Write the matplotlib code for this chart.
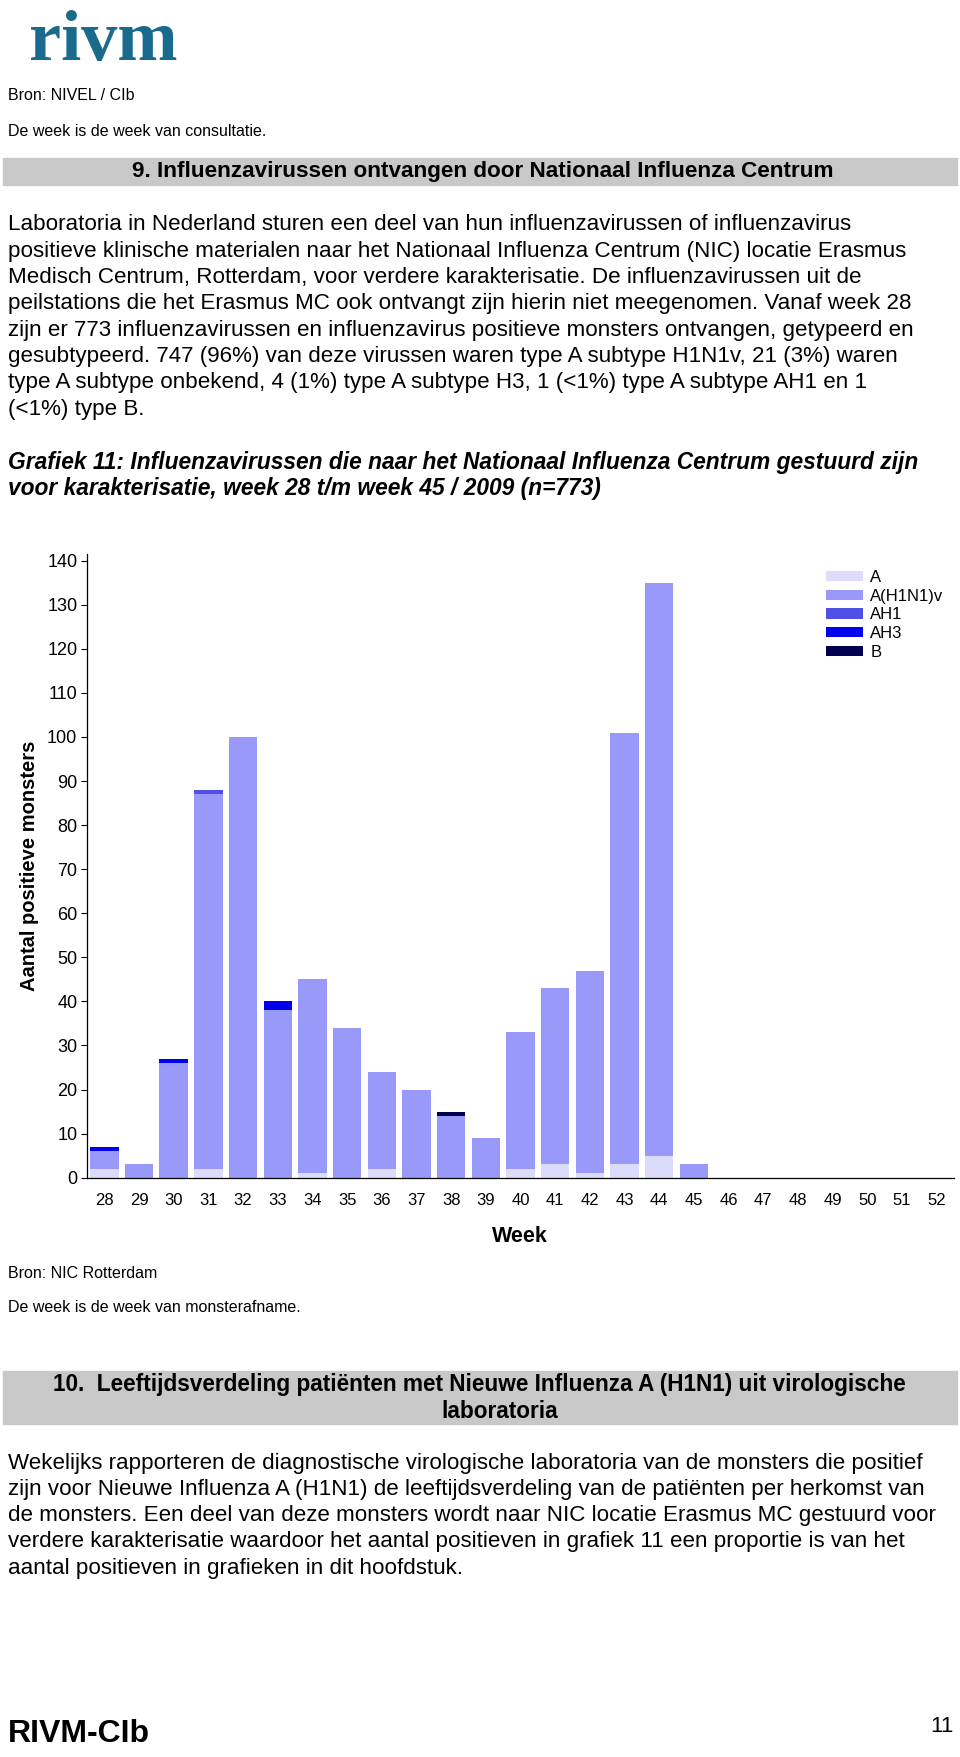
import numpy as np
import matplotlib.pyplot as plt
from matplotlib.patches import Rectangle

plt.rcParams['font.family'] = ['Liberation Sans', 'DejaVu Sans']

# ---------------------------------------------------------------
# data: samples received by NIC per week (week 28 - 52, 2009)
# ---------------------------------------------------------------
weeks = [str(w) for w in range(28, 53)]
a_unk = [2, 0, 0, 2, 0, 0, 1, 0, 2, 0, 0, 0, 2, 3, 1, 3, 5, 0, 0, 0, 0, 0, 0, 0, 0]
a_h1n1v = [4, 3, 26, 85, 100, 38, 44, 34, 22, 20, 14, 9, 31, 40, 46, 98, 130, 3, 0, 0, 0, 0, 0, 0, 0]
a_h1 = [0, 0, 0, 1, 0, 0, 0, 0, 0, 0, 0, 0, 0, 0, 0, 0, 0, 0, 0, 0, 0, 0, 0, 0, 0]
a_h3 = [1, 0, 1, 0, 0, 2, 0, 0, 0, 0, 0, 0, 0, 0, 0, 0, 0, 0, 0, 0, 0, 0, 0, 0, 0]
b = [0, 0, 0, 0, 0, 0, 0, 0, 0, 0, 1, 0, 0, 0, 0, 0, 0, 0, 0, 0, 0, 0, 0, 0, 0]

series = [('A', a_unk, '#dcdcfa'),
          ('A(H1N1)v', a_h1n1v, '#9999fa'),
          ('AH1', a_h1, '#5050e6'),
          ('AH3', a_h3, '#0000ee'),
          ('B', b, '#000050')]

yticks = list(range(0, 141, 10))

# ---------------------------------------------------------------
# page layout (pixels, origin top left)
# ---------------------------------------------------------------
W, H = 960, 1757
fig = plt.figure(figsize=(W / 100, H / 100), dpi=100)

BODY = 16.1


def txt(x, y, s, **kw):
    kw.setdefault('va', 'center')
    kw.setdefault('fontsize', BODY)
    fig.text(x / W, 1 - y / H, s, **kw)


def band(y0, y1):
    fig.patches.append(Rectangle((3 / W, 1 - y1 / H), 954 / W, (y1 - y0) / H,
                                 transform=fig.transFigure, color='#c8c8c8', zorder=0))


# logo
txt(29, 60, 'rivm', va='baseline', fontsize=52, fontweight='bold',
    family='Liberation Serif', color='#1a6a8e')

txt(8, 95, 'Bron: NIVEL / CIb', fontsize=11.5)
txt(8, 131, 'De week is de week van consultatie.', fontsize=11.5)

band(158, 185)
txt(483, 172, '9. Influenzavirussen ontvangen door Nationaal Influenza Centrum',
    ha='center', fontsize=16.2, fontweight='bold')

body1 = ['Laboratoria in Nederland sturen een deel van hun influenzavirussen of influenzavirus',
         'positieve klinische materialen naar het Nationaal Influenza Centrum (NIC) locatie Erasmus',
         'Medisch Centrum, Rotterdam, voor verdere karakterisatie. De influenzavirussen uit de',
         'peilstations die het Erasmus MC ook ontvangt zijn hierin niet meegenomen. Vanaf week 28',
         'zijn er 773 influenzavirussen en influenzavirus positieve monsters ontvangen, getypeerd en',
         'gesubtypeerd. 747 (96%) van deze virussen waren type A subtype H1N1v, 21 (3%) waren',
         'type A subtype onbekend, 4 (1%) type A subtype H3, 1 (<1%) type A subtype AH1 en 1',
         '(<1%) type B.']
for i, line in enumerate(body1):
    txt(8, 225 + i * 26.3, line)

txt(8, 462, 'Grafiek 11: Influenzavirussen die naar het Nationaal Influenza Centrum gestuurd zijn',
    fontsize=16.4, fontweight='bold', style='italic')
txt(8, 488, 'voor karakterisatie, week 28 t/m week 45 / 2009 (n=773)',
    fontsize=16.4, fontweight='bold', style='italic')

# ---------------------------------------------------------------
# chart
# ---------------------------------------------------------------
x0, x1, ytop, ybot = 87, 954, 554, 1177.7
ax = fig.add_axes([x0 / W, 1 - ybot / H, (x1 - x0) / W, (ybot - ytop) / H])

ind = np.arange(len(weeks))
bottom = np.zeros(len(weeks))
for name, vals, col in series:
    ax.bar(ind, vals, 0.82, bottom=bottom, color=col, label=name, linewidth=0)
    bottom += np.array(vals)

ax.set_xlim(-0.5, len(weeks) - 0.5)
ax.set_ylim(0, 141.5)
ax.set_xticks(ind)
ax.set_xticklabels(weeks)
ax.set_yticks(yticks)
ax.tick_params(axis='x', length=0, pad=11, labelsize=12)
ax.tick_params(axis='y', length=4, width=0.8, pad=3, labelsize=13)
for s in ['top', 'right']:
    ax.spines[s].set_visible(False)
for s in ['left', 'bottom']:
    ax.spines[s].set_linewidth(0.9)

ax.legend(loc='upper left', bbox_to_anchor=(826 / W, 1 - 570 / H),
          bbox_transform=fig.transFigure, frameon=False, fontsize=12,
          handlelength=2.2, handleheight=0.6, labelspacing=0.22,
          handletextpad=0.45, borderpad=0, borderaxespad=0)

txt(30, 866, 'Aantal positieve monsters', rotation=90, ha='center',
    fontsize=14.5, fontweight='bold')
txt(520, 1237, 'Week', ha='center', fontsize=15.5, fontweight='bold')

txt(8, 1273, 'Bron: NIC Rotterdam', fontsize=11.5)
txt(8, 1307, 'De week is de week van monsterafname.', fontsize=11.5)

band(1371, 1424)
txt(479, 1385, '10.  Leeftijdsverdeling patiënten met Nieuwe Influenza A (H1N1) uit virologische',
    ha='center', fontsize=16.3, fontweight='bold')
txt(500, 1411, 'laboratoria', ha='center', fontsize=16.3, fontweight='bold')

body2 = ['Wekelijks rapporteren de diagnostische virologische laboratoria van de monsters die positief',
         'zijn voor Nieuwe Influenza A (H1N1) de leeftijdsverdeling van de patiënten per herkomst van',
         'de monsters. Een deel van deze monsters wordt naar NIC locatie Erasmus MC gestuurd voor',
         'verdere karakterisatie waardoor het aantal positieven in grafiek 11 een proportie is van het',
         'aantal positieven in grafieken in dit hoofdstuk.']
for i, line in enumerate(body2):
    txt(8, 1463 + i * 26.3, line)

txt(8, 1734, 'RIVM-CIb', fontsize=23, fontweight='bold')
txt(954, 1726, '11', ha='right', fontsize=16)

fig.savefig('out.png', dpi=100)
